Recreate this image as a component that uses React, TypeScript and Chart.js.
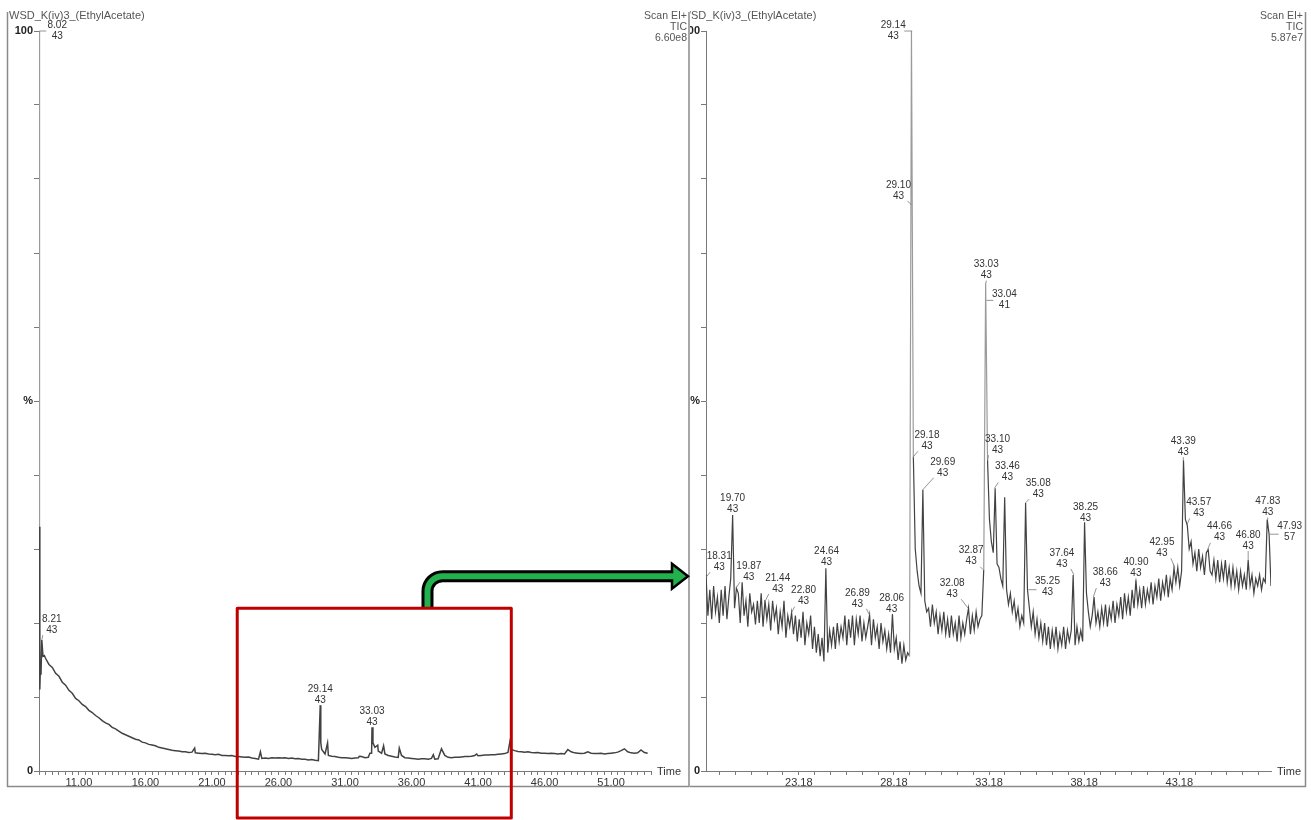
import { useEffect, useRef } from 'react';
import { Chart, registerables } from 'chart.js';

Chart.register(...registerables);

const FONT = '"Liberation Sans", Arial, Helvetica, sans-serif';

// ---------------- DATA ----------------
// Left panel (full run, % of 6.60e8), regular sampling every 0.25 min from 8.5 min
const leftGridStart = 8.5;
const leftGridStep = 0.25;
const leftGridSignal = [
  15.2, 14.4,
  14.0, 13.2, 12.8, 12.0,
  11.6, 10.9, 10.5, 9.8,
  9.5, 9.0, 8.7, 8.2,
  7.9, 7.5, 7.2, 6.8,
  6.5, 6.3, 5.9, 5.7,
  5.4, 5.1, 4.9, 4.7,
  4.5, 4.3, 4.2, 3.9,
  3.8, 3.6, 3.5, 3.4,
  3.2, 3.1, 3.0, 2.9,
  2.8, 2.75, 2.7, 2.6,
  2.6, 2.5, 2.55, 2.45,
  2.4, 2.35, 2.4, 2.3,
  2.25, 2.2, 2.25, 2.1,
  2.1, 2.05, 2.1, 1.95,
  1.95, 1.9, 1.85, 1.9,
  1.75, 1.7, 1.6, 1.7,
  1.75, 1.7, 1.8, 1.75,
  1.8, 1.75, 1.8, 1.7,
  1.75, 1.65, 1.7, 1.6,
  1.6, 1.5, 1.55, 1.45,
  1.4, 2.9, 2.3, 2.1,
  2.0, 1.95, 1.85, 1.8,
  1.8, 1.75, 1.7, 1.75,
  1.8, 1.95, 1.8, 1.85,
  2.4, 3.2, 2.7, 2.4,
  2.3, 2.1, 2.0, 1.9,
  1.85, 2.1, 1.8, 1.75,
  1.7, 1.65, 1.6, 1.65,
  1.65, 1.6, 1.7, 1.6,
  1.65, 3.0, 2.1, 1.85,
  1.8, 1.85, 1.85, 1.9,
  1.95, 1.95, 2.0, 2.1,
  2.05, 2.1, 2.15, 2.15,
  2.2, 2.2, 2.25, 2.3,
  2.35, 2.5, 2.9, 2.75,
  2.65, 2.6, 2.55, 2.6,
  2.5, 2.45, 2.5, 2.4,
  2.4, 2.35, 2.4, 2.35,
  2.3, 2.35, 2.3, 2.9,
  2.6, 2.45, 2.4, 2.35,
  2.4, 2.6, 2.4, 2.35,
  2.35, 2.4, 2.3, 2.35,
  2.4, 2.45, 2.55, 2.75,
  3.0, 2.6, 2.45, 2.4,
  2.45, 2.85, 2.5, 2.4,
];
// Left panel: solvent front and sharp peaks between the regular samples
const leftSpikeTime = [8.0, 8.02, 8.04, 8.06, 8.1, 8.15, 8.21, 8.3, 8.4, 19.7, 24.64, 29.14, 29.18, 29.69, 32.08, 32.87, 33.03, 33.1, 33.46, 33.9, 35.08, 37.64, 40.9, 43.39];
const leftSpikeSignal = [12, 100, 33, 11, 14, 13, 17.7, 15.5, 15.6, 3.1, 2.6, 8.9, 3.8, 3.8, 2.0, 2.4, 5.9, 3.8, 3.5, 3.4, 3.1, 2.2, 2.3, 3.9];

// Right panel (expanded 18.3-48 min, % of 5.87e7), sampled every 0.1 min from 18.3 min
const rightGridStart = 18.3;
const rightGridStep = 0.1;
const rightGridSignal = [
  26.5, 21, 24.5, 20.5, 25, 21.5, 23.5,
  20, 24.5, 21, 25, 20.5, 23.5, 26, 34.6, 22, 24.7,
  24, 20, 25.5, 21, 23, 19.5, 24, 21.5, 22.5, 19.8,
  23, 20, 24, 19.5, 23.1, 20.5, 22.5, 19, 23, 20.5,
  22, 18.5, 21.5, 19.5, 23, 18, 21, 19.5, 21.4, 18.5,
  21, 17.5, 20.5, 18, 21.5, 17, 20, 18.5, 21, 16.5,
  19.5, 16, 18.5, 15.5, 18, 14.8, 27.4, 16, 19, 17,
  19.5, 16.5, 20, 17.5, 19.5, 18, 21, 17, 20.5, 18,
  21, 17, 20.5, 18.5, 21, 17.5, 20, 18, 19.5, 21.1,
  17, 20.5, 18, 19.5, 16.5, 20, 17.5, 19, 16.5, 18.5,
  16, 21.2, 16.5, 18, 15, 17.5, 14.5, 17, 15, 16,
  15.5, 100, 42.4, 30, 27, 25, 24, 38, 23, 21.5,
  22, 19.5, 22.5, 20, 21.5, 18.5, 21, 19, 21.5, 18.5,
  20.5, 18, 21, 18.5, 20, 17.5, 21, 18, 20, 18.5,
  20.5, 22, 18.5, 21, 19, 21.5, 19.5, 20.5, 21, 27.2,
  66, 42, 34, 31, 29.5, 38.2, 28, 27.5, 26, 25,
  37, 24.5, 22.5, 24, 21.5, 23, 20.5, 22, 19.5, 21,
  20, 36.2, 24.5, 22, 19.5, 21.5, 18.5, 20.5, 18, 20,
  17.5, 20, 17, 19.5, 16.5, 19, 17, 19.5, 16.5, 18.5,
  17, 19.5, 16.5, 19, 17.5, 19, 26.5, 17, 19.5, 17.5,
  19, 17.5, 33.6, 24, 21.5, 19.5, 21, 23.5, 20, 21.5,
  19.5, 22, 20, 22.5, 19.5, 22, 20.5, 23, 20, 22.5,
  21, 23.5, 20.5, 24, 21.5, 23.5, 21, 24.5, 22, 25.8,
  22.5, 24.5, 22, 25, 22.5, 24.5, 23, 25.5, 22.5, 25,
  23.5, 26, 23, 25.5, 24, 26.5, 23.5, 26, 24.5, 27.4,
  25.5, 27.5, 25, 27, 42, 34, 33.2, 30, 31, 28,
  29.5, 27, 30, 27.5, 29, 26.5, 29.5, 29.9, 27, 26.5,
  28.5, 26, 28.5, 25.5, 28, 26, 28.5, 25.5, 27.5, 25,
  27.5, 25, 27, 24.5, 27, 25, 26.5, 24.5, 28.5, 25,
  26.5, 24, 26, 25, 26.5, 24.5, 26, 25.5, 34, 32,
  25,
];

// Peak annotations
const leftPeakTime = [8.02, 8.21, 29.14, 33.03];
const leftPeakMass = ['43', '43', '43', '43'];
const leftPeakValue = [100, 17.7, 8.9, 5.8];

const rightPeakTime = [18.31, 19.70, 19.87, 21.44, 22.80, 24.64, 26.89, 28.06, 29.14, 29.10, 29.18, 29.69, 32.08, 32.87, 33.03, 33.04, 33.10, 33.46, 35.08, 35.25, 37.64, 38.25, 38.66, 40.90, 42.95, 43.39, 43.57, 44.66, 46.80, 47.83, 47.93];
const rightPeakMass = ['43', '43', '43', '43', '43', '43', '43', '43', '43', '43', '43', '43', '43', '43', '43', '41', '43', '43', '43', '43', '43', '43', '43', '43', '43', '43', '43', '43', '43', '43', '57'];
const rightPeakValue = [26.2, 34.6, 24.7, 23.1, 21.4, 27.4, 21.1, 21.2, 100, 76.5, 42.4, 38, 22, 27.2, 66, 63.6, 42, 38.2, 36.2, 24.5, 26.5, 33.6, 23.5, 25.8, 27.4, 42, 33.2, 29.9, 28.5, 34, 32];

// Axis tick labels
const leftTickLabels = ['11.00', '16.00', '21.00', '26.00', '31.00', '36.00', '41.00', '46.00', '51.00'];
const rightTickLabels = ['23.18', '28.18', '33.18', '38.18', '43.18'];
const yTickLabels = ['0', '%', '100'];
const yTickValues = [0, 50, 100];

// ---------------- LAYOUT (label placement, px offsets of the mass line from the peak) ----------------
const leftLabelOffset = [[18, 5], [10, -10], [0, -5], [0, -6]];
const rightLabelOffset = [[13, -10], [0, -6], [13, -11], [12, -11], [12, -11], [0, -6], [-12, -11], [0, -5], [-19, 5], [-13, -9], [14, -11], [20, -17], [-16, -14], [-12, -8], [0, -7], [18, 5], [10, -10], [13, -11], [13, -9], [19, 3], [-12, -11], [0, -4], [12, -14], [0, -7], [-13, -15], [0, -8], [12, -12], [12, -12], [0, -14], [0, -7], [20, 3]];

function buildSeries(start: number, step: number, vals: number[], extraT: number[], extraV: number[]) {
  const pts = vals.map((v, i) => ({ x: Math.round((start + i * step) * 1000) / 1000, y: v }));
  extraT.forEach((t, i) => pts.push({ x: t, y: extraV[i] }));
  pts.sort((a, b) => a.x - b.x);
  return pts;
}

function stepTicks(min: number, max: number, anchor: number, step: number) {
  const out: number[] = [];
  let k = Math.ceil((min - anchor) / step - 1e-9);
  for (;;) {
    const v = anchor + k * step;
    if (v > max + 1e-9) break;
    out.push(Math.round(v * 10000) / 10000);
    k++;
  }
  return out;
}

function makePlugin(p: any) {
  return {
    id: 'decor',
    afterDatasetsDraw(chart: any) {
      const ctx = chart.ctx;
      const xs = chart.scales.x;
      const ys = chart.scales.y;
      ctx.save();
      ctx.font = '10px ' + FONT;
      ctx.textAlign = 'center';
      ctx.textBaseline = 'middle';
      p.peakTime.forEach((t: number, i: number) => {
        const ax = xs.getPixelForValue(t);
        const ay = ys.getPixelForValue(p.peakValue[i]);
        const [dx, dy] = p.offsets[i];
        const lx = ax + dx;
        const my = ay + dy;
        ctx.strokeStyle = '#7a7a7a';
        ctx.lineWidth = 0.8;
        ctx.beginPath();
        if (dx === 0) {
          if (ay - (my + 5) > 1) {
            ctx.moveTo(ax, my + 5);
            ctx.lineTo(ax, ay);
          }
        } else if (dy >= 0) {
          ctx.moveTo(ax, ay);
          ctx.lineTo(lx - Math.sign(dx) * 11, ay);
        } else {
          ctx.moveTo(ax, ay);
          ctx.lineTo(lx - Math.sign(dx) * 9, my + 5);
        }
        ctx.stroke();
        ctx.fillStyle = '#333';
        ctx.fillText(t.toFixed(2), lx, my - 11);
        ctx.fillText(p.peakMass[i], lx, my);
      });
      ctx.restore();
    },
    afterDraw(chart: any) {
      const ctx = chart.ctx;
      const area = chart.chartArea;
      const W = chart.width;
      ctx.save();
      // frame
      ctx.strokeStyle = '#8a8a8a';
      ctx.lineWidth = 1.5;
      ctx.beginPath();
      if (p.side === 'left') {
        ctx.moveTo(7.5, 12);
        ctx.lineTo(7.5, 786.5);
        ctx.lineTo(W - 1, 786.5);
        ctx.lineTo(W - 1, 12);
      } else {
        ctx.moveTo(0, 786.5);
        ctx.lineTo(615.5, 786.5);
        ctx.lineTo(615.5, 12);
      }
      ctx.stroke();

      // header texts
      ctx.fillStyle = '#555';
      ctx.font = '11px ' + FONT;
      ctx.textBaseline = 'middle';
      ctx.textAlign = 'left';
      const wW = ctx.measureText('W').width;
      ctx.fillText(p.title, p.side === 'left' ? 9 : 1 - wW, 16);
      ctx.font = '10.5px ' + FONT;
      ctx.textAlign = 'right';
      const hx = p.side === 'left' ? W - 3 : 613;
      ctx.fillText('Scan EI+', hx, 16);
      ctx.fillText('TIC', hx, 27);
      ctx.fillText(p.scale, hx, 38.5);

      // Time label
      ctx.font = '11px ' + FONT;
      ctx.fillStyle = '#333';
      ctx.textAlign = 'left';
      ctx.fillText('Time', area.right + 6, area.bottom + 1);

      if (p.side === 'left') {
        const xs = chart.scales.x;
        const ys = chart.scales.y;
        const rx0 = xs.getPixelForValue(p.zoomWindow[0]);
        const rx1 = xs.getPixelForValue(p.zoomWindow[1]);
        const ry0 = ys.getPixelForValue(p.zoomTop);
        const ry1 = chart.height - 2;
        const sx = xs.getPixelForValue(p.arrowStem);
        const shaftY = ry0 - 32;
        const r = 15;
        const tip = W - 2;
        const headBase = tip - 16;
        const hh = 12.5;
        const green = '#22b14c';
        const shaft = (end: number) => {
          ctx.beginPath();
          ctx.moveTo(sx, ry0);
          ctx.lineTo(sx, shaftY + r);
          ctx.arcTo(sx, shaftY, sx + r, shaftY, r);
          ctx.lineTo(end, shaftY);
        };
        ctx.lineCap = 'butt';
        ctx.lineJoin = 'round';
        ctx.strokeStyle = '#000';
        ctx.lineWidth = 12;
        shaft(headBase + 1);
        ctx.stroke();
        ctx.lineJoin = 'miter';
        ctx.beginPath();
        ctx.moveTo(headBase, shaftY - hh);
        ctx.lineTo(tip, shaftY);
        ctx.lineTo(headBase, shaftY + hh);
        ctx.closePath();
        ctx.fillStyle = green;
        ctx.fill();
        ctx.lineWidth = 2.5;
        ctx.stroke();
        ctx.lineJoin = 'round';
        ctx.strokeStyle = green;
        ctx.lineWidth = 6;
        shaft(headBase + 3);
        ctx.stroke();
        ctx.strokeStyle = '#c00000';
        ctx.lineWidth = 3;
        ctx.strokeRect(rx0, ry0, rx1 - rx0, ry1 - ry0);
      }
      ctx.restore();
    },
  };
}

function buildConfig(p: any) {
  const labelFor = (v: number) => {
    const hit = p.tickLabels.find((s: string) => Math.abs(parseFloat(s) - v) < 1e-6);
    return hit ? hit : '';
  };
  return {
    type: 'line',
    data: {
      datasets: [
        {
          data: p.points,
          borderColor: '#424242',
          borderWidth: p.lineWidth,
          pointRadius: 0,
          tension: 0,
          fill: false,
          segment: {
            borderColor: (c: any) => (Math.max(c.p0.parsed.y, c.p1.parsed.y) > 45 ? '#9b9b9b' : undefined),
          },
        },
      ],
    },
    options: {
      responsive: false,
      animation: false,
      devicePixelRatio: 1,
      events: [],
      layout: { padding: { left: 0, right: p.padRight, top: 31, bottom: 29 } },
      plugins: { legend: { display: false }, tooltip: { enabled: false }, title: { display: false } },
      scales: {
        x: {
          type: 'linear',
          min: p.xMin,
          max: p.xMax,
          afterBuildTicks: (s: any) => {
            s.ticks = p.xTicks.map((v: number) => ({ value: v }));
          },
          afterFit: (s: any) => {
            s.height = 20;
          },
          grid: { drawOnChartArea: false, drawTicks: true, tickLength: 4, color: '#7a7a7a', lineWidth: 1 },
          border: { display: true, color: '#7a7a7a', width: 1 },
          ticks: {
            autoSkip: false,
            maxRotation: 0,
            minRotation: 0,
            padding: 1,
            color: '#333',
            font: { size: 11, family: FONT },
            callback: (v: number) => labelFor(v),
          },
        },
        y: {
          type: 'linear',
          min: 0,
          max: 100,
          afterBuildTicks: (s: any) => {
            const t: number[] = [];
            for (let v = 0; v <= 100; v += 10) t.push(v);
            s.ticks = t.map((v) => ({ value: v }));
          },
          afterFit: (s: any) => {
            s.width = p.yWidth;
          },
          grid: { drawOnChartArea: false, drawTicks: true, tickLength: 5, color: '#7a7a7a', lineWidth: 1 },
          border: { display: true, color: '#7a7a7a', width: 1 },
          ticks: {
            autoSkip: false,
            padding: 1,
            color: '#222',
            font: { size: 11, family: FONT, weight: 'bold' },
            callback: (v: number) => {
              const i = yTickValues.indexOf(v);
              return i >= 0 ? yTickLabels[i] : '';
            },
          },
        },
      },
    },
    plugins: [makePlugin(p)],
  };
}

const leftPanel = {
  side: 'left',
  title: 'WSD_K(iv)3_(EthylAcetate)',
  scale: '6.60e8',
  points: buildSeries(leftGridStart, leftGridStep, leftGridSignal, leftSpikeTime, leftSpikeSignal),
  lineWidth: 1.5,
  xMin: 8.0,
  xMax: 54.0,
  xTicks: stepTicks(8.0, 54.0, 11.0, 0.5),
  tickLabels: leftTickLabels,
  padRight: 39,
  yWidth: 39,
  peakTime: leftPeakTime,
  peakMass: leftPeakMass,
  peakValue: leftPeakValue,
  offsets: leftLabelOffset,
  zoomWindow: [22.9, 43.5],
  zoomTop: 22,
  arrowStem: 37.2,
};

const rightPanel = {
  side: 'right',
  title: 'WSD_K(iv)3_(EthylAcetate)',
  scale: '5.87e7',
  points: buildSeries(rightGridStart, rightGridStep, rightGridSignal, [], []),
  lineWidth: 1.2,
  xMin: 18.3,
  xMax: 48.0,
  xTicks: stepTicks(18.3, 48.0, 23.18, 5 / 6),
  tickLabels: rightTickLabels,
  padRight: 40,
  yWidth: 16,
  peakTime: rightPeakTime,
  peakMass: rightPeakMass,
  peakValue: rightPeakValue,
  offsets: rightLabelOffset,
};

export default function App() {
  const leftRef = useRef<HTMLCanvasElement>(null);
  const rightRef = useRef<HTMLCanvasElement>(null);
  useEffect(() => {
    const a = new Chart(leftRef.current as HTMLCanvasElement, buildConfig(leftPanel) as any);
    const b = new Chart(rightRef.current as HTMLCanvasElement, buildConfig(rightPanel) as any);
    return () => {
      a.destroy();
      b.destroy();
    };
  }, []);
  return (
    <div style={{ position: 'fixed', left: 0, top: 0, width: 1311, height: 820, background: '#fff', overflow: 'hidden' }}>
      <canvas ref={leftRef} width={690} height={820} style={{ position: 'absolute', left: 0, top: 0, width: 690, height: 820 }} />
      <canvas ref={rightRef} width={621} height={820} style={{ position: 'absolute', left: 690, top: 0, width: 621, height: 820 }} />
    </div>
  );
}
